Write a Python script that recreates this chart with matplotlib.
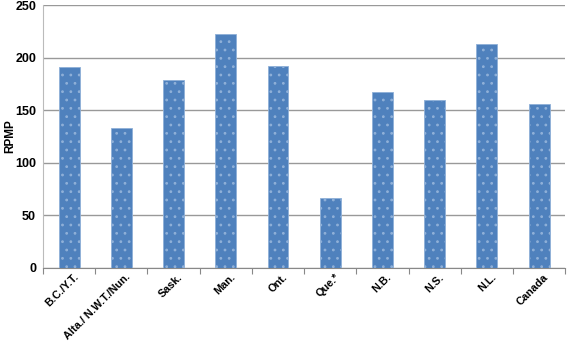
import matplotlib
matplotlib.use("Agg")
import matplotlib.pyplot as plt
import matplotlib.transforms as mtransforms
import numpy as np

categories = ["B.C./Y.T.", "Alta./ N.W.T./Nun.", "Sask.", "Man.", "Ont.", "Que.*", "N.B.", "N.S.", "N.L.", "Canada"]
values = [191, 133, 179, 222, 192, 67, 167, 160, 213, 156]
yticks = [0, 50, 100, 150, 200, 250]

plt.rcParams['font.family'] = ['Liberation Sans', 'DejaVu Sans']
plt.rcParams['hatch.color'] = '#1f2f4a'
plt.rcParams['hatch.linewidth'] = 0.8

fig = plt.figure(figsize=(5.67, 3.43), dpi=100)
ax = fig.add_axes([0.0758, 0.2187, 0.921, 0.7667])

x = np.arange(len(categories))
ax.bar(x, values, width=0.4, color='#4F81BD', edgecolor='#8FB0D8', linewidth=0.6,
       hatch='..', zorder=3)

ax.set_xlim(-0.5, len(categories) - 0.5)
ax.set_ylim(0, 250)
ax.set_yticks(yticks)
ax.set_yticklabels([str(t) for t in yticks], fontsize=9, fontweight='bold')
ax.set_xticks(np.arange(len(categories) + 1) - 0.5)
ax.set_xticklabels([])
ax.tick_params(axis='x', length=4, color='#888888', direction='out')
ax.tick_params(axis='y', length=0, pad=5)

offset = mtransforms.ScaledTranslation(4 / 100, -4 / 100, fig.dpi_scale_trans)
trans = ax.get_xaxis_transform() + offset
for xi, cat in zip(x, categories):
    ax.text(xi, 0, cat, transform=trans, rotation=45, ha='right', va='top',
            rotation_mode='anchor', fontsize=7.8, fontweight='bold')

ax.yaxis.grid(True, color='#999999', linewidth=1.0, zorder=0)
ax.set_axisbelow(True)
for s in ['top', 'right']:
    ax.spines[s].set_visible(False)
ax.spines['left'].set_color('#bbbbbb')
ax.spines['bottom'].set_color('#888888')

ax.set_ylabel('RPMP', fontsize=8.5, fontweight='bold')
ax.yaxis.set_label_coords(-0.052, 0.5)

fig.savefig('out.png', dpi=100)
